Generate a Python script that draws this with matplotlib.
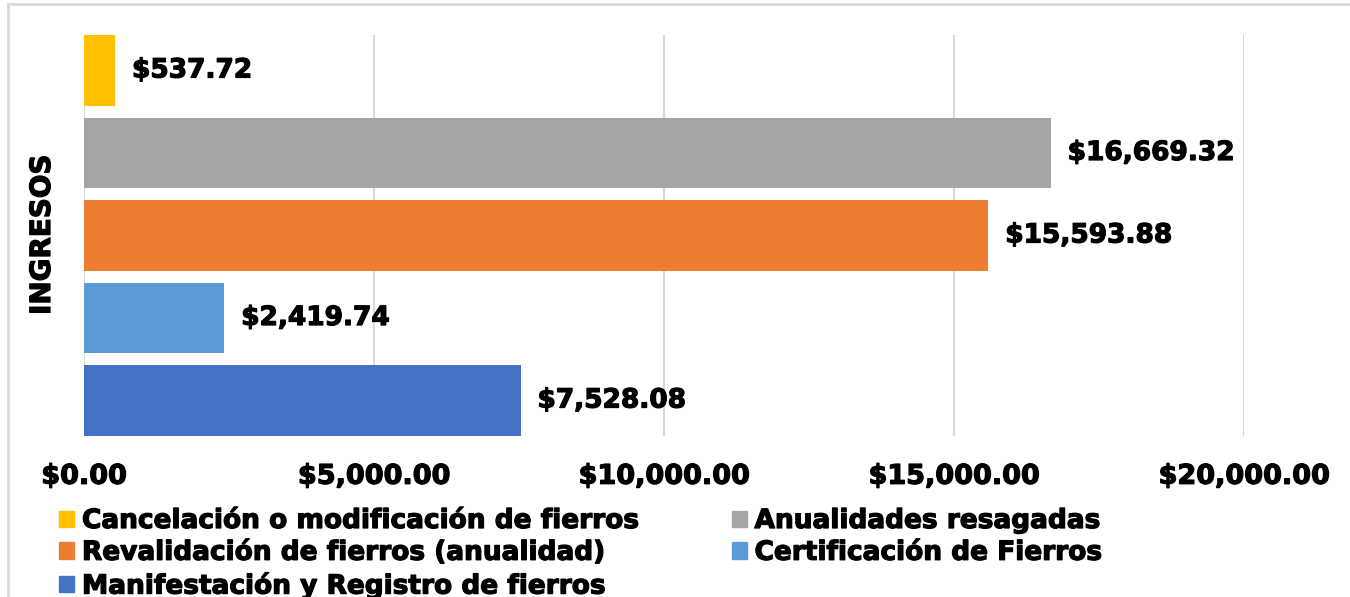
import matplotlib
matplotlib.use("Agg")
import matplotlib.pyplot as plt
import matplotlib.patheffects as pe
from matplotlib.patches import Patch, Rectangle
from matplotlib.ticker import FuncFormatter

plt.rcParams['font.family'] = ['DejaVu Sans']
plt.rcParams['font.weight'] = 'bold'

series = ["Manifestación y Registro de fierros",
          "Certificación de Fierros",
          "Revalidación de fierros (anualidad)",
          "Anualidades resagadas",
          "Cancelación o modificación de fierros"]
values = [7528.08, 2419.74, 15593.88, 16669.32, 537.72]
colors = ["#4472C4", "#5B9BD5", "#ED7D31", "#A5A5A5", "#FFC000"]
category = "INGRESOS"
xticks = [0, 5000, 10000, 15000, 20000]

heavy = [pe.withStroke(linewidth=0.9, foreground='black')]

fig = plt.figure(figsize=(13.5, 5.97), dpi=100)
ax = fig.add_axes([84/1350, 1-436/597, (1244-84)/1350, (436-35)/597])

h = 0.86
for i, (s, v, c) in enumerate(zip(series, values, colors)):
    ax.barh(i, v, height=h, color=c, label=s, zorder=3)
    ax.text(v + 290, i, f"${v:,.2f}", va='center', ha='left',
            fontsize=19, fontweight='bold', color='black', zorder=4,
            path_effects=heavy)

ax.set_ylim(-h/2, len(series) - 1 + h/2)
ax.set_xlim(0, 20000)
ax.set_xticks(xticks)
ax.xaxis.set_major_formatter(FuncFormatter(lambda x, p: f"${x:,.2f}"))
ax.tick_params(axis='x', length=0, pad=20, labelsize=19.5)
ax.set_yticks([])
for sp in ax.spines.values():
    sp.set_visible(False)
ax.grid(axis='x', color='#D9D9D9', lw=1.5, zorder=0)
for lab in ax.get_xticklabels():
    lab.set_fontweight('bold')
    lab.set_path_effects(heavy)

fig.text(42/1350, 1-235/597, category, rotation=90, ha='center', va='center',
         fontsize=20, fontweight='bold', path_effects=heavy)

# legend (row-major order as in the reference)
order = [4, 2, 0, 3, 1]
handles = [Patch(color=colors[k]) for k in order]
labels = [series[k] for k in order]
leg = fig.legend(handles, labels, ncol=2, loc='upper left',
                 bbox_to_anchor=(59/1350, 1-508/597), frameon=False,
                 prop={'size': 19, 'weight': 'bold'},
                 handlelength=0.57, handleheight=0.57, handletextpad=0.3,
                 columnspacing=3.5, labelspacing=0.22, borderpad=0, borderaxespad=0)
for t in leg.get_texts():
    t.set_path_effects(heavy)

fig.add_artist(Rectangle((8/1350, -0.2), 2, 1.2 - 4/597, transform=fig.transFigure,
                         fill=False, edgecolor='#D9D9D9', lw=2))

fig.savefig("out.png", dpi=100)
